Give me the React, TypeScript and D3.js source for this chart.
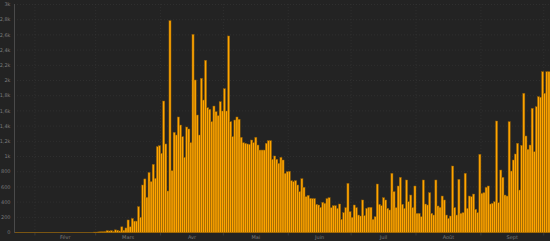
import React from "react";
import * as d3 from "d3";

const START = "2020-01-22";

// daily values, one per day from START
const values: number[] = [
  // Jan 22 - Feb 28 (i 0-37)
  0, 0, 0, 0, 0, 0, 0, 0, 0, 0,
  0, 0, 0, 0, 0, 0, 0, 0, 0, 0,
  0, 0, 0, 0, 0, 0, 0, 0, 0, 0,
  0, 0, 0, 0, 0, 0, 0, 0,
  // i 38-48
  5, 5, 8, 10, 10, 12, 25, 20, 25, 15, 35,
  // i 49-76
  30, 20, 75, 30, 60, 165, 75, 185, 150, 150, 340, 200, 625, 705, 463, 790, 670, 897, 713, 1130,
  1142, 1042, 1730, 1165, 546, 2787, 813, 1318,
  // i 77-119
  1283, 1520, 1414, 1261, 989, 1388, 1362, 1182, 2607, 2007, 1546, 1283, 2029, 1743, 2266, 1642,
  1621, 1458, 1664, 1590, 1537, 1721, 1599, 1892, 1599, 2586, 1458, 1261, 1480, 1520, 1490, 1253,
  1182, 1174, 1165, 1160, 1217, 1182, 1253, 1151, 1085, 1085, 1085,
  // i 120-159
  1174, 1208, 1208, 963, 1007, 963, 910, 989, 954, 779, 800, 805, 682, 669, 682, 625, 537, 708,
  595, 471, 489, 450, 446, 446, 371, 362, 331, 397, 384, 446, 458, 327, 353, 353, 318, 375, 173,
  261, 327, 647,
  // i 160-197
  274, 200, 362, 327, 230, 217, 428, 222, 318, 331, 331, 173, 208, 638, 371, 353, 458, 428, 318,
  296, 779, 537, 327, 612, 726, 371, 318, 691, 405, 493, 327, 612, 252, 252, 208, 691, 375, 362,
  // i 198-255
  524, 252, 230, 691, 349, 331, 480, 428, 230, 186, 217, 875, 327, 230, 700, 252, 261, 779, 318,
  480, 471, 506, 305, 261, 1029, 515, 524, 595, 612, 375, 384, 405, 1467, 392, 822, 726, 493, 480,
  1458, 809, 954, 1033, 1174, 559, 1147, 1832, 1270, 1095, 1151, 1634, 1063, 1655, 1787, 1780,
  2116, 1832, 2116, 2116,
];

const yTicks = [0, 200, 400, 600, 800, 1000, 1200, 1400, 1600, 1800, 2000, 2200, 2400, 2600, 2800, 3000];
const monthStarts = ["2020-02-01", "2020-03-01", "2020-04-01", "2020-05-01", "2020-06-01", "2020-07-01", "2020-08-01", "2020-09-01", "2020-10-01"];
const monthLabels = ["Févr", "Mars", "Avr", "Mai", "Juin", "Juil", "Août", "Sept"];

const fmt = (v: number) => (v >= 1000 ? String(v / 1000).replace(".", ",") + "k" : String(v));

export default function App() {
  const W = 550;
  const H = 241;
  const parse = d3.timeParse("%Y-%m-%d");
  const start = parse(START)!;
  const end = d3.timeDay.offset(start, values.length);
  const x = d3.scaleTime().domain([start, end]).range([14, 550]);
  const y = d3.scaleLinear().domain([0, 3000]).range([232.5, 4.5]);
  const months = monthStarts.map((s) => parse(s)!);
  const dates = values.map((_, i) => d3.timeDay.offset(start, i));

  return (
    <svg
      width={W}
      height={H}
      style={{ position: "absolute", left: 0, top: 0, background: "#232323", display: "block" }}
    >
      <rect x={0} y={0} width={W} height={H} fill="#232323" />
      {yTicks.map((t) => (
        <line key={"g" + t} x1={14} x2={W} y1={y(t)} y2={y(t)} stroke="#383838" strokeWidth={0.6} strokeDasharray="1,2" />
      ))}
      {months.map((m, i) => (
        <line key={"v" + i} x1={x(m)} x2={x(m)} y1={4} y2={232.5} stroke="#383838" strokeWidth={0.6} strokeDasharray="1,2" />
      ))}
      <line x1={14} x2={W} y1={y(0)} y2={y(0)} stroke="#7a5512" strokeWidth={1} />
      {values.map((v, i) => {
        const x0 = x(dates[i]);
        const x1 = x(d3.timeDay.offset(dates[i], 1));
        if (v <= 0) return null;
        return (
          <rect
            key={i}
            x={x0}
            y={y(v)}
            width={x1 - x0}
            height={y(0) - y(v)}
            fill="#FFA500"
            stroke="#8a5a05"
            strokeWidth={0.5}
          />
        );
      })}
      <line x1={14.5} x2={14.5} y1={4} y2={233} stroke="#4a4a4a" strokeWidth={1} />
      {yTicks.map((t) => (
        <text key={"t" + t} x={10.5} y={y(t)} dy="0.35em" textAnchor="end" fontSize={5} fill="#7a7a7a" fontFamily="DejaVu Sans, sans-serif">
          {fmt(t)}
        </text>
      ))}
      {months.map((m, i) => (
        <line key={"k" + i} x1={x(m)} x2={x(m)} y1={233} y2={235.5} stroke="#4a4a4a" strokeWidth={0.6} />
      ))}
      {monthLabels.map((lab, i) => {
        const mid = (x(months[i]) + x(months[i + 1])) / 2;
        return (
          <text key={"m" + i} x={mid} y={237.5} dy="0.35em" textAnchor="middle" fontSize={5} fill="#7a7a7a" fontFamily="DejaVu Sans, sans-serif">
            {lab}
          </text>
        );
      })}
    </svg>
  );
}
